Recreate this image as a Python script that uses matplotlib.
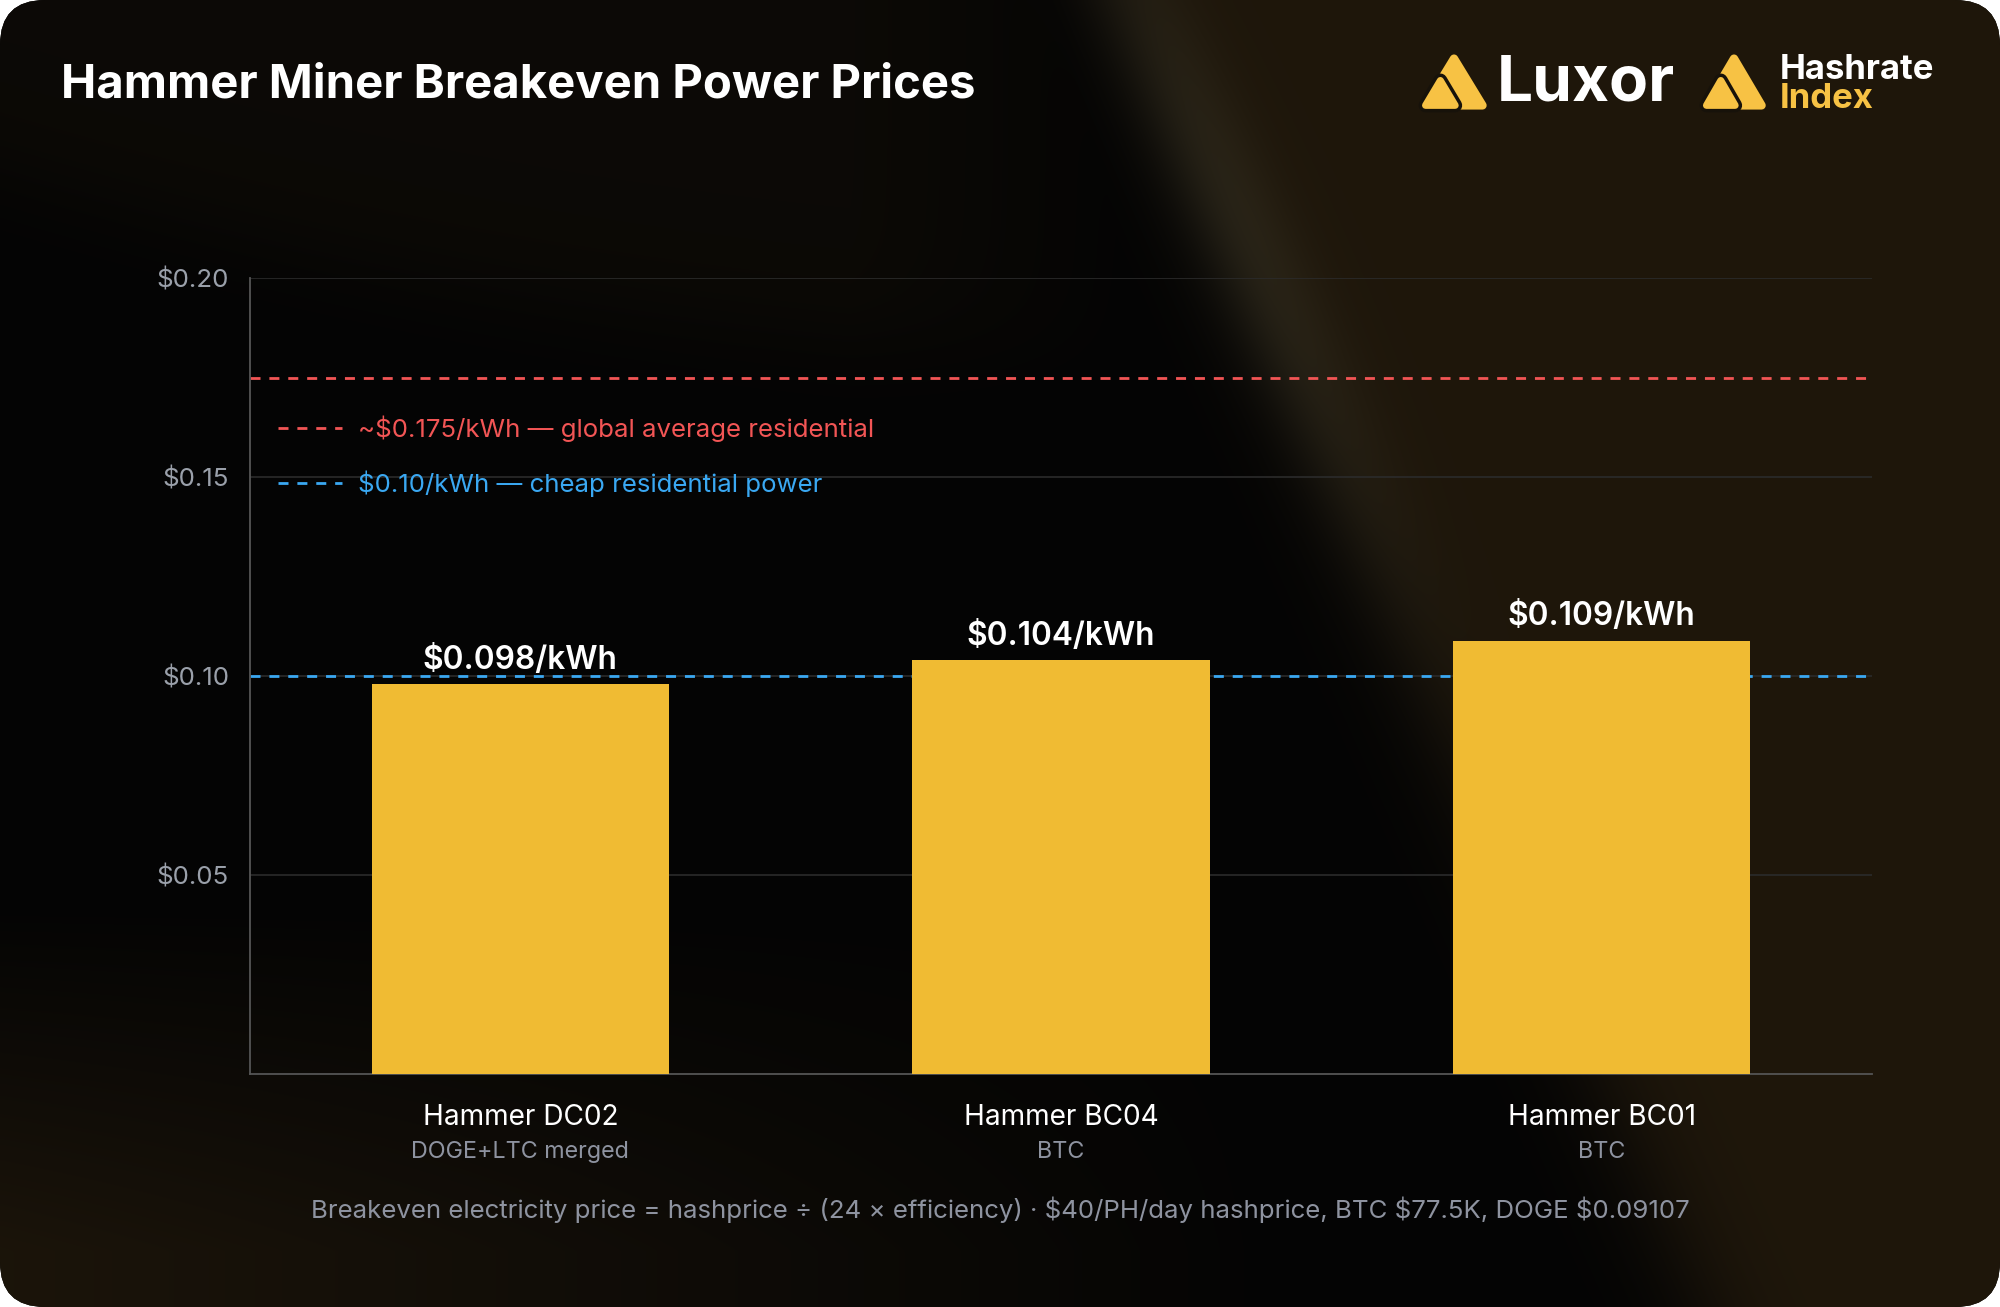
import numpy as np
import matplotlib.pyplot as plt
from matplotlib.patches import FancyBboxPatch, Polygon
from matplotlib.lines import Line2D

plt.rcParams['font.family'] = ['Inter', 'DejaVu Sans']

# data
miners = ['Hammer DC02', 'Hammer BC04', 'Hammer BC01']
coins = ['DOGE+LTC merged', 'BTC', 'BTC']
breakeven = [0.098, 0.104, 0.109]
bar_labels = ['$0.098/kWh', '$0.104/kWh', '$0.109/kWh']
ref_prices = [0.175, 0.10]
ref_labels = ['~$0.175/kWh — global average residential',
              '$0.10/kWh — cheap residential power']
ref_colors = ['#f25555', '#3aa8f2']
yticks = [0.05, 0.10, 0.15, 0.20]
ytick_labels = ['$0.05', '$0.10', '$0.15', '$0.20']
title = 'Hammer Miner Breakeven Power Prices'
footnote = ('Breakeven electricity price = hashprice ÷ (24 × efficiency) · '
            '$40/PH/day hashprice, BTC $77.5K, DOGE $0.09107')

YELLOW = '#f0bb33'
LOGO_YELLOW = '#f7c244'
W, H = 2000, 1307

fig = plt.figure(figsize=(20, 13.07), dpi=100, facecolor='white')

# background layer in pixel coords
bg = fig.add_axes([0, 0, 1, 1], zorder=0)
bg.set_xlim(0, W)
bg.set_ylim(H, 0)
bg.axis('off')

card = FancyBboxPatch((0, 0), W, H, boxstyle='round,pad=0,rounding_size=45',
                      fc='#050505', ec='none')
bg.add_patch(card)

yy, xx = np.mgrid[0:H:3, 0:W:3].astype(float)
base = np.array([4, 4, 4]) / 255
brown = np.array([31, 23, 11]) / 255
dx, dy = 1518 - 1122, 893
d = ((xx - 1122) * dy - yy * dx) / np.hypot(dx, dy)
w_right = 1 / (1 + np.exp(-d / 30))
w_bl = np.clip((yy - 900) / 350, 0, 1) * np.clip((1300 - xx) / 1300, 0, 1) * 0.85
bound = 170 + 0.3 * xx - 0.00012 * xx ** 2
w_tl = 0.3 / (1 + np.exp(-(bound - yy) / 30)) * np.clip((1150 - xx) / 300, 0, 1)
w = np.maximum(np.maximum(w_right, w_bl), w_tl)
img = base + (brown - base) * w[..., None]
streak = np.exp(-((d - 15) ** 2) / (2 * 35 ** 2)) * np.exp(-((yy - 220) ** 2) / (2 * 260 ** 2))
img += streak[..., None] * (np.array([18, 18, 14]) / 255)
im = bg.imshow(np.clip(img, 0, 1), extent=(0, W, H, 0), aspect='auto',
               interpolation='bilinear', zorder=1)
im.set_clip_path(card)

# title
bg.text(61, 86, title, fontsize=34, weight='bold', color='white', va='center', zorder=3)


def logo_icon(ax, x0, y0, w, h):
    def pts(p):
        return [(x0 + a * w, y0 + b * h) for a, b in p]
    big = [(0.5, 0.05), (0.96, 0.95), (0.04, 0.95)]
    small = [(0.28, 0.47), (0.52, 0.95), (0.04, 0.95)]
    ax.add_patch(Polygon(pts(big), closed=True, fc=LOGO_YELLOW, ec=LOGO_YELLOW,
                         lw=6, joinstyle='round', zorder=3))
    ax.add_patch(Polygon(pts(small), closed=True, fc='#17120a', ec='#17120a',
                         lw=10, joinstyle='round', zorder=4))
    ax.add_patch(Polygon(pts(small), closed=True, fc=LOGO_YELLOW, ec=LOGO_YELLOW,
                         lw=5, joinstyle='round', zorder=5))


logo_icon(bg, 1423, 56, 62, 52)
bg.text(1497, 84, 'Luxor', fontsize=46, weight='bold', color='white', va='center', zorder=3)
logo_icon(bg, 1704, 56, 60, 52)
bg.text(1780, 70, 'Hashrate', fontsize=25, weight='bold', color='white', va='center', zorder=3)
bg.text(1780, 99, 'Index', fontsize=25, weight='bold', color=LOGO_YELLOW, va='center', zorder=3)

bg.text(1000, 1210, footnote, fontsize=18.6, color='#8e93a0', ha='center', va='center', zorder=3)

# main chart
ax = fig.add_axes([0.125, 0.178, 0.811, 0.609], zorder=1)
ax.set_facecolor('none')
x = np.arange(len(miners))
ax.bar(x, breakeven, width=0.55, color=YELLOW, zorder=3)
for xi, v, lab in zip(x, breakeven, bar_labels):
    ax.text(xi, v + 0.0021, lab, ha='center', va='bottom', fontsize=22.8,
            weight='semibold', color='white', zorder=5)

dash = (0, (3.6, 3.2))
handles = []
for p, c in zip(ref_prices, ref_colors):
    ax.axhline(p, color=c, lw=2, linestyle=dash, zorder=2)
    handles.append(Line2D([], [], color=c, lw=2, linestyle=dash))
leg = ax.legend(handles, ref_labels, loc='upper left', bbox_to_anchor=(0.017, 0.828),
                frameon=False, fontsize=18.6, labelcolor='linecolor', handlelength=2.5,
                handletextpad=0.6, labelspacing=1.12, borderpad=0, borderaxespad=0)

ax.set_xlim(-0.5, 2.5)
ax.set_ylim(0, 0.2)
ax.set_yticks(yticks)
ax.set_yticklabels(ytick_labels)
ax.set_xticks([])
ax.yaxis.grid(True, color='#2b2b2b', lw=1.2)
ax.set_axisbelow(True)
ax.tick_params(axis='y', length=0, pad=15, labelsize=18.7, labelcolor='#9aa0aa')
for s in ['top', 'right']:
    ax.spines[s].set_visible(False)
for s in ['left', 'bottom']:
    ax.spines[s].set_color('#555555')
    ax.spines[s].set_linewidth(1.3)

tr = ax.get_xaxis_transform()
for xi, name, coin in zip(x, miners, coins):
    ax.text(xi, -0.054, name, transform=tr, ha='center', va='center',
            fontsize=20.2, color='white')
    ax.text(xi, -0.097, coin, transform=tr, ha='center', va='center',
            fontsize=16.8, color='#8e93a0')

fig.savefig('out.png', dpi=100, facecolor=fig.get_facecolor())
